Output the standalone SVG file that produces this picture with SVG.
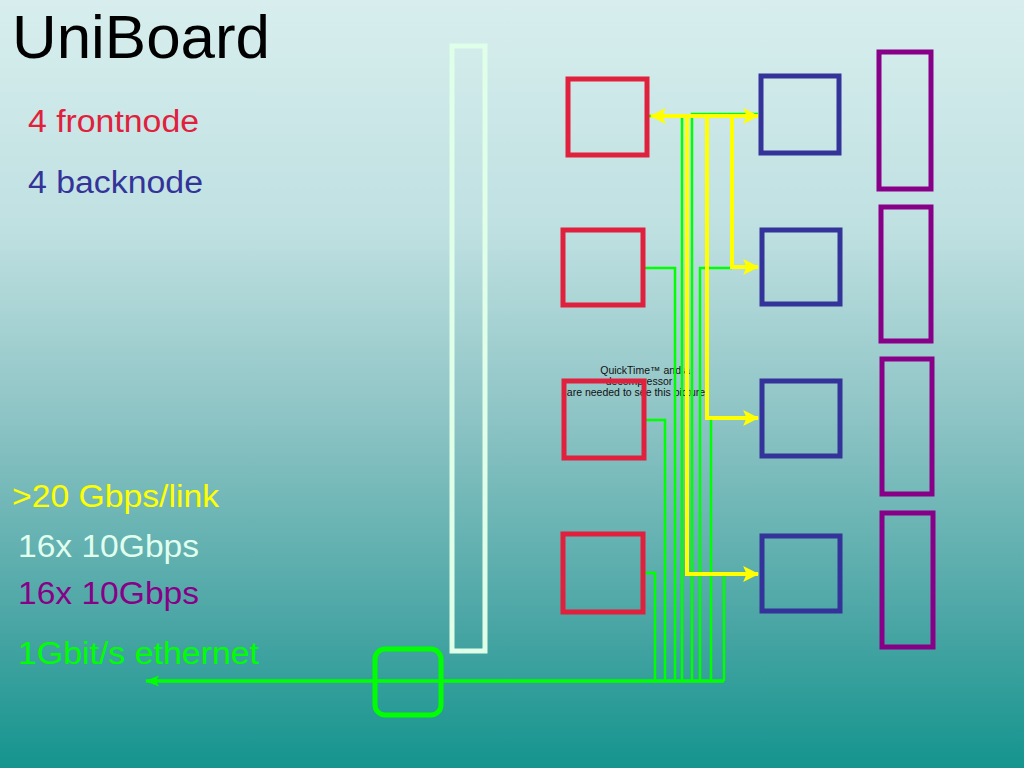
<svg xmlns="http://www.w3.org/2000/svg" width="1024" height="768" viewBox="0 0 1024 768">
<defs>
<linearGradient id="bg" x1="0" y1="0" x2="0" y2="1">
<stop offset="0" stop-color="#d8eeee"/>
<stop offset="0.3" stop-color="#bfe0e1"/>
<stop offset="0.55" stop-color="#8cc3c4"/>
<stop offset="0.8" stop-color="#4da7a6"/>
<stop offset="1" stop-color="#15948e"/>
</linearGradient>
<marker id="ay" markerUnits="userSpaceOnUse" markerWidth="16" markerHeight="16" viewBox="0 0 14 14" refX="13" refY="7" orient="auto-start-reverse">
<path d="M0,0 L14,7 L0,14 L3,7 Z" fill="#ffff00"/>
</marker>
<marker id="ag" markerUnits="userSpaceOnUse" markerWidth="14" markerHeight="14" viewBox="0 0 14 14" refX="13" refY="7" orient="auto-start-reverse">
<path d="M0,1.5 L14,7 L0,12.5 L3,7 Z" fill="#00ff00"/>
</marker>
<style>
text{font-family:"Liberation Sans",Arial,sans-serif}
.lbl{font-size:31px}
.red{fill:none;stroke:#e0203c;stroke-width:5}
.blue{fill:none;stroke:#333399;stroke-width:5}
.purple{fill:none;stroke:#880088;stroke-width:5}
.g{fill:none;stroke:#00ff00;stroke-width:2.5}
.y{fill:none;stroke:#ffff00;stroke-width:4}
</style>
</defs>
<rect width="1024" height="768" fill="url(#bg)"/>
<text x="12" y="58" font-size="61" fill="#000" textLength="258" lengthAdjust="spacingAndGlyphs">UniBoard</text>
<text class="lbl" x="28" y="132" fill="#e0203c" textLength="171" lengthAdjust="spacingAndGlyphs">4 frontnode</text>
<text class="lbl" x="28" y="193" fill="#333399" textLength="175" lengthAdjust="spacingAndGlyphs">4 backnode</text>
<text class="lbl" x="12" y="507" fill="#ffff00" textLength="207" lengthAdjust="spacingAndGlyphs">&gt;20 Gbps/link</text>
<text class="lbl" x="18" y="557" fill="#e0ffef" textLength="181" lengthAdjust="spacingAndGlyphs">16x 10Gbps</text>
<text class="lbl" x="18" y="604" fill="#880088" textLength="181" lengthAdjust="spacingAndGlyphs">16x 10Gbps</text>
<text class="lbl" x="18" y="664" fill="#00ff00" textLength="241" lengthAdjust="spacingAndGlyphs">1Gbit/s ethernet</text>
<g id="quicktime" font-size="10.5" fill="#111" text-anchor="middle">
<text x="645" y="374">QuickTime™ and a</text>
<text x="639" y="385">decompressor</text>
<text x="636" y="396">are needed to see this picture</text>
</g>
<g id="column"><rect x="452" y="46" width="33" height="605" fill="none" stroke="#e0ffe8" stroke-width="5"/></g>
<g id="connectors">
<path class="g" d="M647,116 H682 V681"/>
<path class="g" d="M692,681 V114 H758"/>
<path class="g" d="M645,268 H675 V681"/>
<path class="g" d="M700,681 V268 H732"/>
<path class="g" d="M646,420 H665 V681"/>
<path class="g" d="M711,681 V420"/>
<path class="g" d="M645,573 H655 V681"/>
<path class="g" d="M724,681 V574"/>
<path fill="none" stroke="#00ff00" stroke-width="3.5" d="M724,681 H146" marker-end="url(#ag)"/>
<path class="y" d="M651,116 H758" marker-start="url(#ay)" marker-end="url(#ay)"/>
<path class="y" d="M687,116 V574 H758" marker-end="url(#ay)"/>
<path class="y" d="M707,116 V418 H758" marker-end="url(#ay)"/>
<path class="y" d="M732,116 V267 H758" marker-end="url(#ay)"/>
</g>
<g id="front1"><rect class="red" x="568" y="79" width="79" height="76"/></g>
<g id="front2"><rect class="red" x="563" y="230" width="80" height="75"/></g>
<g id="front3"><rect class="red" x="564" y="381" width="80" height="77"/></g>
<g id="front4"><rect class="red" x="563" y="534" width="80" height="78"/></g>
<g id="back1"><rect class="blue" x="761" y="76" width="78" height="77"/></g>
<g id="back2"><rect class="blue" x="762" y="230" width="78" height="74"/></g>
<g id="back3"><rect class="blue" x="762" y="381" width="78" height="75"/></g>
<g id="back4"><rect class="blue" x="762" y="536" width="78" height="75"/></g>
<g id="p1"><rect class="purple" x="879" y="52" width="52" height="137"/></g>
<g id="p2"><rect class="purple" x="881" y="207" width="50" height="134"/></g>
<g id="p3"><rect class="purple" x="882" y="359" width="50" height="135"/></g>
<g id="p4"><rect class="purple" x="882" y="513" width="51" height="134"/></g>
<g id="eth"><rect x="375" y="649" width="66" height="66" rx="10" fill="none" stroke="#00ff00" stroke-width="5"/></g>
</svg>
